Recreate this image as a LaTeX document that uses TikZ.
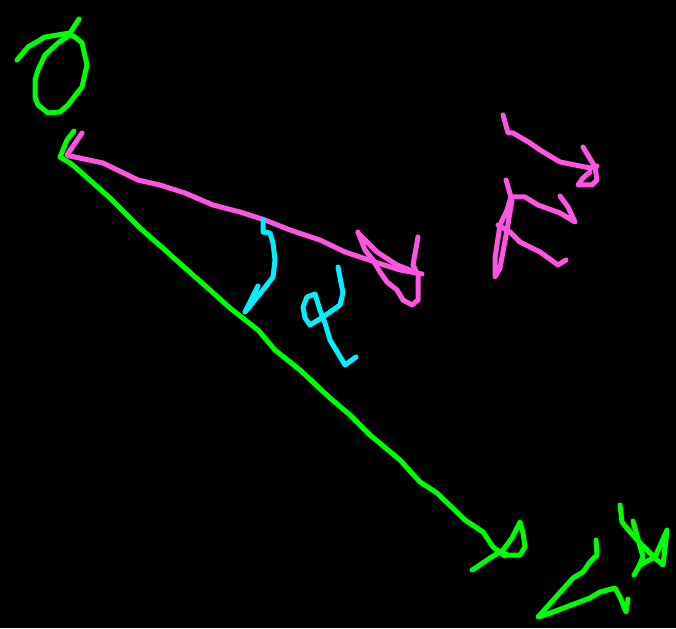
\documentclass[tikz,border=0pt]{standalone}
\begin{document}
\begin{tikzpicture}[x=1pt,y=-1pt,
  pen/.style={line width=5pt,line cap=round,line join=round},
  gpen/.style={pen,draw=grn},
  mpen/.style={pen,draw=mag},
  cpen/.style={pen,draw=cyn}]
\definecolor{grn}{HTML}{00FF00}
\definecolor{mag}{HTML}{FF55E2}
\definecolor{cyn}{HTML}{00F0FF}
\fill[black] (0,0) rectangle (676,628);
\useasboundingbox (0,0) rectangle (676,628);
% green O
\draw[gpen] (17,60)--(28,47)--(45,37)--(70,33)--(79,19);
\draw[gpen] (70,35)--(58,43)--(45,55)--(38,70)--(35,80)--(35,97)--(38,105)--(48,113)--(60,112)--(68,105)--(82,87)--(87,65)--(82,43)--(75,37)--(70,35);
% green vector
\draw[gpen] (74,131)--(67,140)--(60,157)--(70,163)--(75,167)--(92,182)--(110,198)--(140,228)--(165,250)--(185,268)--(210,290)--(230,308)--(258,330)--(275,350)--(300,370)--(330,398)--(350,415)--(370,435)--(400,460)--(420,482)--(437,493)--(465,520)--(483,532)--(493,547)--(505,556);
\draw[gpen] (472,570)--(477,567)--(490,558)--(503,550)--(512,538)--(520,522)--(523,533)--(525,547)--(520,555)--(508,555)--(500,552);
% green label bottom right
\draw[gpen] (596,540)--(597,555)--(590,562)--(583,572)--(573,578)--(538,617)--(545,615)--(590,598)--(600,592)--(615,588)--(620,597)--(626,612)--(628,599);
\draw[gpen] (620,505)--(622,522)--(630,532)--(640,543)--(655,558)--(663,565)--(667,530)--(655,557)--(640,565)--(634,575)--(638,568)--(643,557)--(633,521);
% magenta vector
\draw[mpen] (82,133)--(67,155)--(70,156)--(103,163)--(138,180)--(160,185)--(185,193)--(213,205)--(240,212)--(265,220)--(290,230)--(320,240)--(345,252)--(375,262)--(400,270)--(422,274);
\draw[mpen] (358,232)--(365,250)--(373,260)--(380,272)--(387,282)--(397,290)--(403,300)--(412,305)--(418,300)--(418,275)--(413,265)--(418,237);
\draw[mpen] (358,233)--(377,252)--(397,265)--(410,270);
% magenta label top right
\draw[mpen] (503,115)--(508,133)--(513,133)--(530,143)--(540,150)--(560,162)--(590,168)--(597,166);
\draw[mpen] (583,147)--(595,167)--(597,180)--(592,185)--(578,185)--(583,178)--(590,172);
\draw[mpen] (506,180)--(511,197)--(507,210)--(500,225)--(495,258)--(495,277)--(500,268)--(507,230)--(512,200);
\draw[mpen] (512,197)--(525,197)--(538,205)--(560,213)--(575,222)--(568,207)--(560,196);
\draw[mpen] (498,225)--(510,232)--(520,242)--(540,252)--(558,265)--(566,260);
% cyan angle arc
\draw[cpen] (263,220)--(263,232)--(270,233)--(273,243)--(275,260)--(273,277)--(263,290)--(245,312)--(258,286);
% cyan alpha
\draw[cpen] (338,267)--(343,293)--(340,305)--(323,317)--(310,325)--(305,318)--(303,307)--(307,297)--(315,294)--(320,310)--(325,323)--(330,340)--(345,365)--(356,357);
\end{tikzpicture}
\end{document}
